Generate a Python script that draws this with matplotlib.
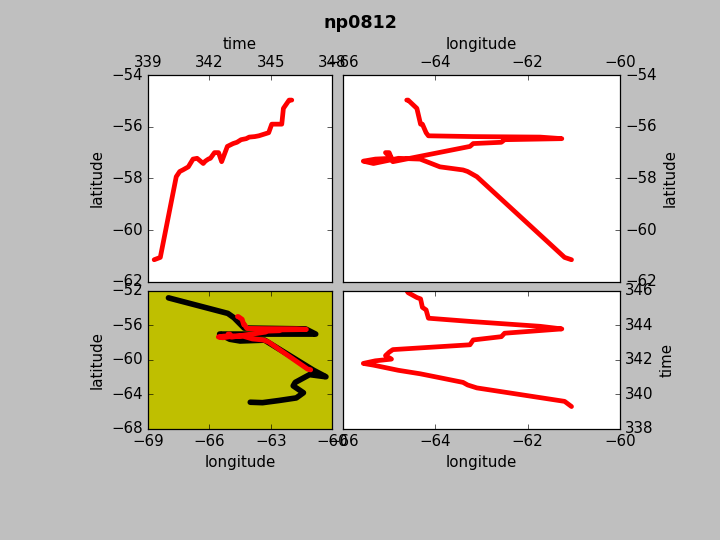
import matplotlib
matplotlib.use("Agg")
import matplotlib.pyplot as plt

# red track: day of year, longitude, latitude
red_time = [339.30, 339.60, 340.38, 340.55, 340.70, 340.97, 341.20, 341.40,
            341.70, 341.80, 341.95, 342.05, 342.25, 342.45, 342.60, 342.88,
            343.16, 343.35, 343.55, 343.80, 343.95, 344.22, 344.42, 344.90,
            345.05, 345.54, 345.62, 345.90, 346.03]
red_lon = [-61.05, -61.20, -63.10, -63.30, -63.40, -63.90, -64.33, -64.80,
           -65.34, -65.56, -65.30, -64.95, -65.08, -65.00, -64.92, -63.25,
           -63.18, -62.57, -62.50, -61.26, -61.73, -63.18, -64.15, -64.20,
           -64.28, -64.32, -64.40, -64.59, -64.62]
red_lat = [-61.14, -61.05, -57.93, -57.73, -57.67, -57.55, -57.25, -57.22,
           -57.42, -57.33, -57.25, -57.22, -57.00, -57.00, -57.35, -56.76,
           -56.65, -56.60, -56.50, -56.46, -56.40, -56.38, -56.35, -56.23,
           -55.90, -55.90, -55.29, -54.97, -54.97]

# black track: longitude, latitude
blk_lon = [-68.0, -65.1, -64.8, -64.3, -61.3, -60.8, -63.0, -65.5, -65.0,
           -64.5, -63.3, -60.9, -60.3, -61.1, -61.8, -61.9, -61.4, -61.75,
           -62.6, -63.4, -64.0]
blk_lat = [-52.8, -54.6, -55.1, -56.3, -56.4, -57.0, -57.0, -57.0, -57.6,
           -57.8, -57.7, -61.2, -61.95, -61.7, -62.6, -63.0, -63.8, -64.4,
           -64.7, -64.95, -64.9]

lat_ticks = [-62, -60, -58, -56, -54]
lon_ticks = [-66, -64, -62, -60]
time_ticks = [338, 340, 342, 344, 346]

plt.style.use('classic')
fig = plt.figure(figsize=(8, 6), dpi=90)
fig.suptitle('np0812', fontsize=14, fontweight='bold', y=0.975)

line_kw = dict(color='r', lw=3.8, solid_capstyle='round', solid_joinstyle='round')

# top left: latitude vs time
ax1 = fig.add_axes([0.2056, 0.4778, 0.2556, 0.3833])
ax1.plot(red_time, red_lat, **line_kw)
ax1.set_xlim(339, 348)
ax1.set_xticks([339, 342, 345, 348])
ax1.set_ylim(-62, -54)
ax1.set_yticks(lat_ticks)
ax1.xaxis.set_ticks_position('top')
ax1.xaxis.set_label_position('top')
ax1.set_xlabel('time')
ax1.set_ylabel('latitude')

# top right: latitude vs longitude
ax2 = fig.add_axes([0.4764, 0.4778, 0.3847, 0.3833])
ax2.plot(red_lon, red_lat, **line_kw)
ax2.set_xlim(-66, -60)
ax2.set_xticks(lon_ticks)
ax2.set_ylim(-62, -54)
ax2.set_yticks(lat_ticks)
ax2.xaxis.set_ticks_position('top')
ax2.xaxis.set_label_position('top')
ax2.yaxis.set_ticks_position('right')
ax2.yaxis.set_label_position('right')
ax2.set_xlabel('longitude')
ax2.set_ylabel('latitude')

# bottom left: both tracks on olive background
ax3 = fig.add_axes([0.2056, 0.2056, 0.2556, 0.2556], facecolor='y')
ax3.plot(blk_lon, blk_lat, color='k', lw=4.5, solid_capstyle='round',
         solid_joinstyle='round')
ax3.plot(red_lon, red_lat, color='r', lw=4, solid_capstyle='round',
         solid_joinstyle='round')
ax3.set_xlim(-69, -60)
ax3.set_xticks([-69, -66, -63, -60])
ax3.set_ylim(-68, -52)
ax3.set_yticks([-68, -64, -60, -56, -52])
ax3.set_xlabel('longitude')
ax3.set_ylabel('latitude')

# bottom right: time vs longitude
ax4 = fig.add_axes([0.4764, 0.2056, 0.3847, 0.2556])
ax4.plot(red_lon, red_time, **line_kw)
ax4.set_xlim(-66, -60)
ax4.set_xticks(lon_ticks)
ax4.set_ylim(338, 346)
ax4.set_yticks(time_ticks)
ax4.yaxis.set_ticks_position('right')
ax4.yaxis.set_label_position('right')
ax4.set_xlabel('longitude')
ax4.set_ylabel('time')

fig.savefig('out.png', dpi=90, facecolor=fig.get_facecolor())
